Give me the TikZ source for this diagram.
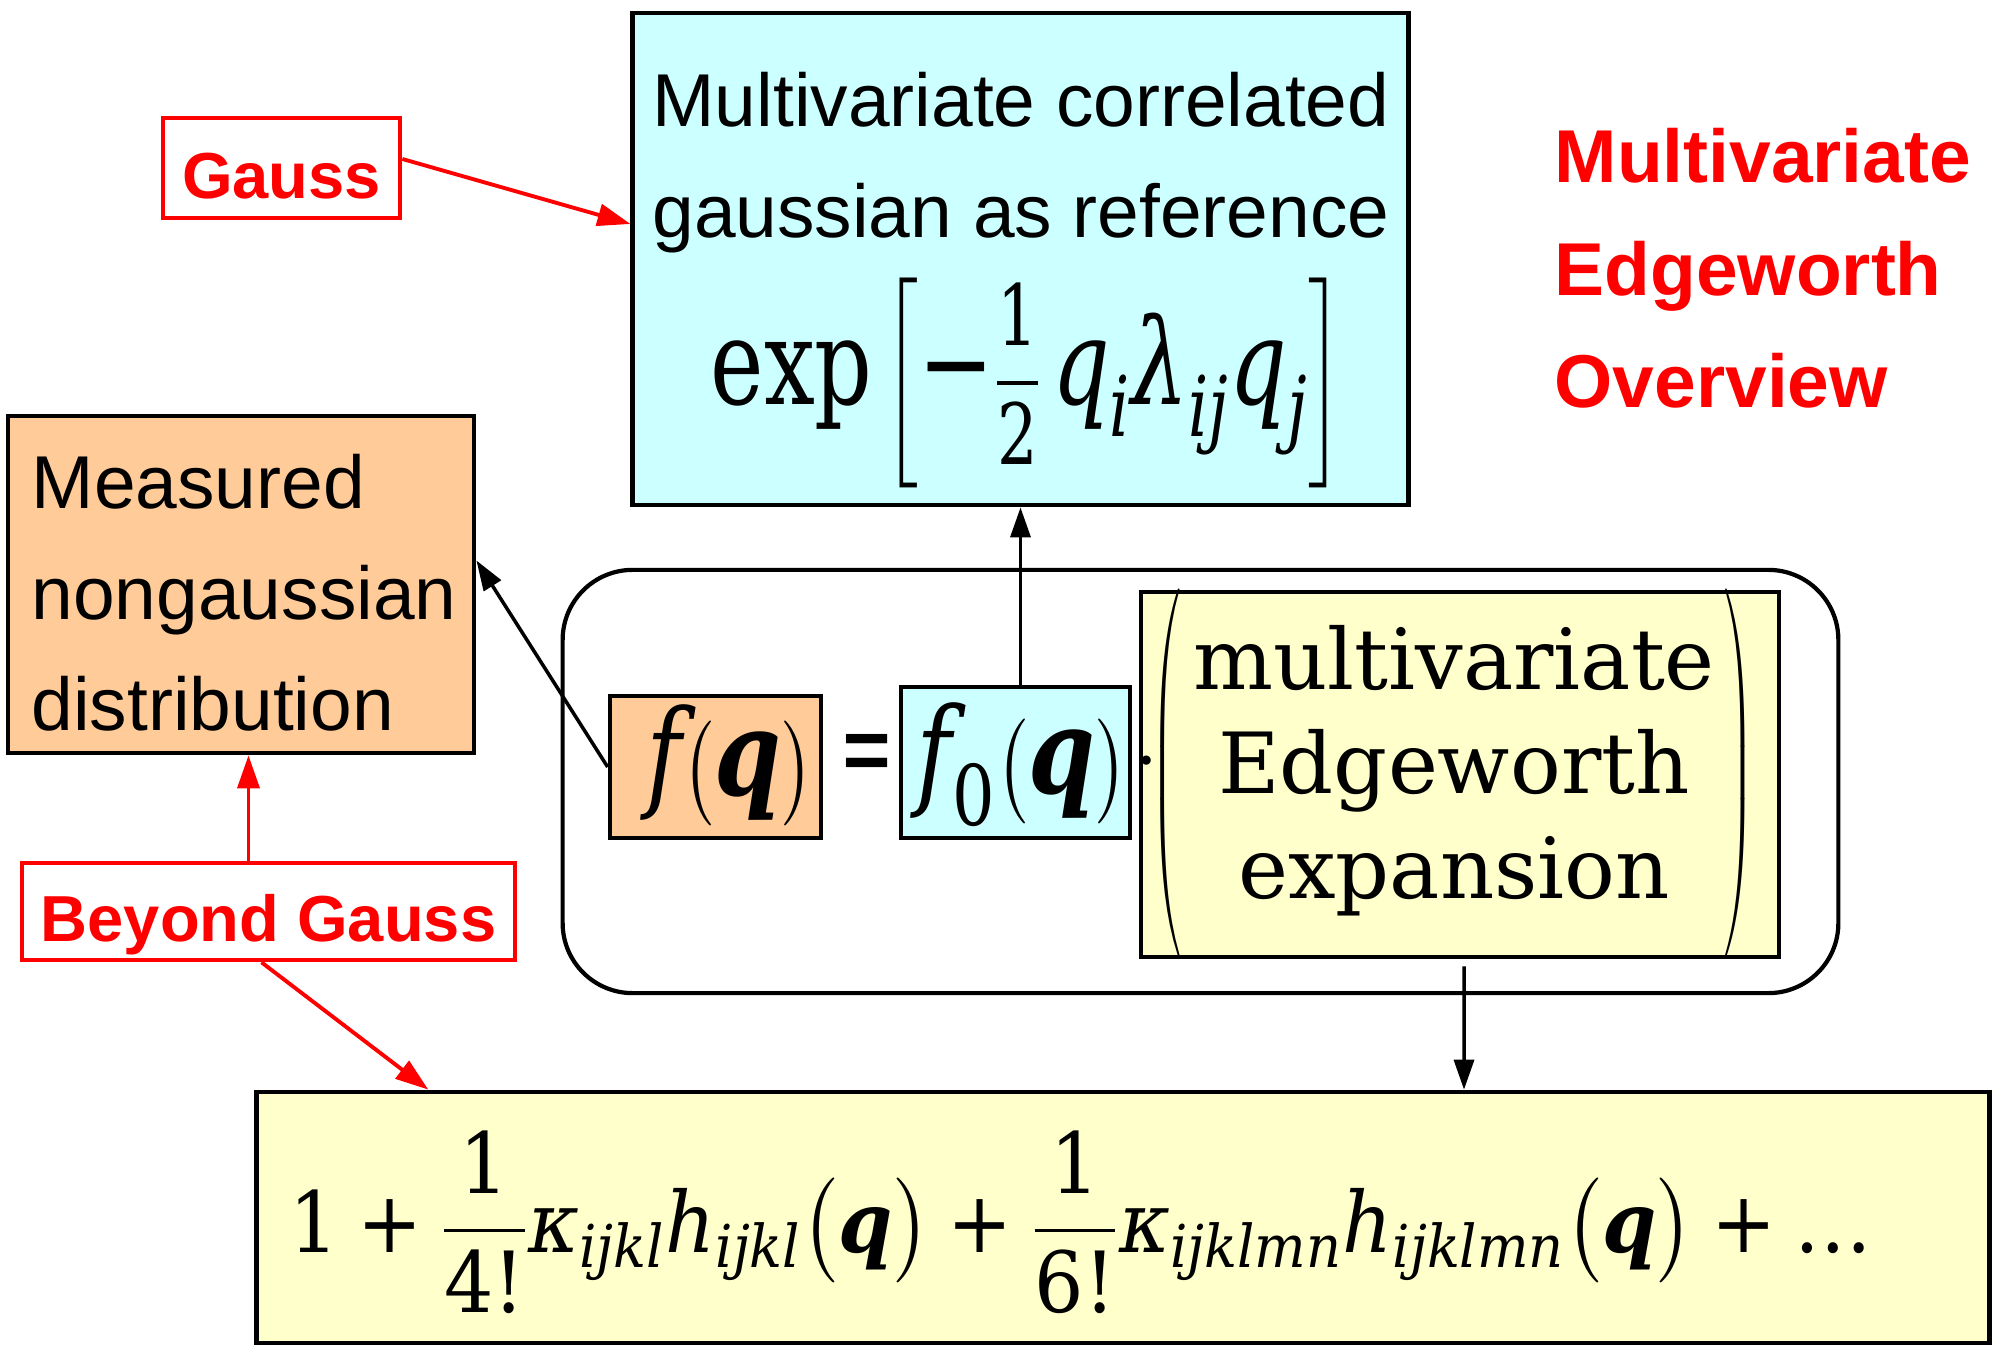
\documentclass[tikz,border=0pt]{standalone}
\usepackage{fontspec}
\usepackage{amsmath}
\usepackage{graphicx}
\setmainfont{Liberation Sans}
\newfontfamily\edgeserif{DejaVu Serif}
\usetikzlibrary{arrows.meta, positioning, calc}
\definecolor{edgeorange}{HTML}{FFCC99}
\definecolor{edgecyan}{HTML}{CCFFFF}
\definecolor{edgeyellow}{HTML}{FFFFCC}
\definecolor{edgered}{HTML}{FF0000}
\newcommand{\er}[1]{\text{\edgeserif #1}}
\newcommand{\ei}[1]{\text{\edgeserif\itshape #1}}
\newcommand{\eq}{\text{\edgeserif\bfseries\itshape q}}
\newcommand{\edigit}[1]{\text{\edgeserif\fontsize{24}{28}\selectfont #1}}
\newcommand{\thinparen}[1]{\scalebox{0.4}[1]{$\left#1\vrule height 1.63cm depth 1.63cm width 0pt\right.$}}
\tikzset{
  panel/.style={rectangle, draw=black, line width=1.3pt, inner sep=0pt},
  tag/.style={rectangle, draw=edgered, line width=1.3pt, fill=white, text=edgered,
    font=\bfseries\fontsize{18.5}{22}\selectfont, inner sep=0pt, text height=0.6cm, text depth=0pt},
  body/.style={font=\fontsize{21.3}{31.5}\selectfont, inner sep=0pt},
  frm/.style={font=\edgeserif\fontsize{24}{29.7}\selectfont, inner sep=0pt},
  arr/.style={-{Triangle[length=3mm, width=2mm]}, line width=1pt, black},
  redarr/.style={-{Triangle[length=3.3mm, width=2.2mm]}, line width=1.1pt, edgered},
}

\begin{document}
\begin{tikzpicture}[x=0.01cm, y=-0.01cm]
    \useasboundingbox (0,0) rectangle (1996,1346);
    % frame round the identity
    \node[draw, line width=1.2pt, rounded corners=0.7cm, minimum width=12.75cm, minimum height=4.23cm, inner sep=0pt] (frame) at (1200.5,781.5) {};

    % gaussian reference
    \node[panel, fill=edgecyan, minimum width=7.75cm, minimum height=4.92cm] (gaussref) at (1020.5,259) {};
    \node[body, align=center, anchor=north] (reftext) at (1021,72) {Multivariate correlated\\gaussian as reference};
    \node[frm] (refform) at (1027,383) {\scalebox{0.755}[1]{\fontsize{34}{40}\selectfont$\er{exp}\left[\er{−}\dfrac{\edigit{1}}{\edigit{2}}\,\ei{q}_{\ei{i}}\ei{λ}_{\ei{ij}}\ei{q}_{\ei{j}}\right]$}};

    % measured distribution
    \node[panel, fill=edgeorange, minimum width=4.66cm, minimum height=3.37cm] (measured) at (241,584.5) {};
    \node[body, align=left, anchor=north west] (meastext) at (31,454) {Measured\\nongaussian\\distribution};

    % red tags and title
    \node[tag, minimum width=2.37cm, minimum height=1.0cm] (gauss) at (281.5,168) {Gauss};
    \node[tag, minimum width=4.93cm, minimum height=0.97cm] (beyond) at (268.5,911.5) {Beyond Gauss};
    \node[inner sep=0pt, text=edgered, font=\bfseries\fontsize{21.3}{31.9}\selectfont, align=left, anchor=north west] (title) at (1554,128) {Multivariate\\Edgeworth\\Overview};

    % f(q) = f0(q) . (expansion)
    \node[panel, fill=edgeorange, minimum width=2.11cm, minimum height=1.42cm] (fq) at (715.5,767) {};
    \node[frm] (fqtext) at (730,765) {\scalebox{0.8}[1]{\fontsize{34}{40}\selectfont$\ei{f}\bigl(\eq\bigr)$}};
    \node[frm] (eqsign) at (867,761) {\scalebox{0.55}[1]{\fontsize{34}{40}\selectfont\edgeserif =}};
    \node[panel, fill=edgecyan, minimum width=2.29cm, minimum height=1.51cm] (f0) at (1015.5,762.5) {};
    \node[frm] (f0text) at (1022,765) {\scalebox{0.8}[1]{\fontsize{34}{40}\selectfont$\ei{f}_{\er{0}}\bigl(\eq\bigr)$}};
    \node[panel, fill=edgeyellow, minimum width=6.38cm, minimum height=3.65cm] (expansion) at (1460,774.5) {};
    \node[frm] (exptext) at (1454,773.5) {\thinparen{(}\begin{tabular}{@{\hspace{0.1cm}}c@{\hspace{0.1cm}}}multivariate\\Edgeworth\\expansion\end{tabular}\thinparen{)}};
    \node[frm] (dotsign) at (1147,763) {$\cdot$};

    % series
    \node[panel, fill=edgeyellow, minimum width=17.32cm, minimum height=2.51cm] (series) at (1123,1217.5) {};
    \node[frm] (seriestext) at (1081,1222) {\scalebox{0.92}[1]{$\displaystyle \er{1}\mathbin{\er{+}}\frac{\er{1}}{\er{4!}}\ei{κ}_{\ei{ijkl}}\ei{h}_{\ei{ijkl}}\bigl(\eq\bigr)\mathbin{\er{+}}\frac{\er{1}}{\er{6!}}\ei{κ}_{\ei{ijklmn}}\ei{h}_{\ei{ijklmn}}\bigl(\eq\bigr)\mathbin{\er{+}}\er{…}$}};

    \draw[redarr] ([yshift=0.09cm]gauss.east) -- ([yshift=0.35cm]gaussref.west);
    \draw[redarr] ([xshift=-0.2cm]beyond.north) -- ([xshift=-0.2cm]beyond.north |- measured.south);
    \draw[redarr] ([xshift=-0.07cm]beyond.south) -- ([xshift=1.74cm]series.north west);
    \draw[arr] (fq.west) -- ([yshift=0.24cm]measured.east);
    \draw[arr] (gaussref.south |- f0.north) -- (gaussref.south);
    \draw[arr] ([shift={(4,7)}]expansion.south) -- ([xshift=0.04cm]expansion.south |- series.north);
\end{tikzpicture}
\end{document}
